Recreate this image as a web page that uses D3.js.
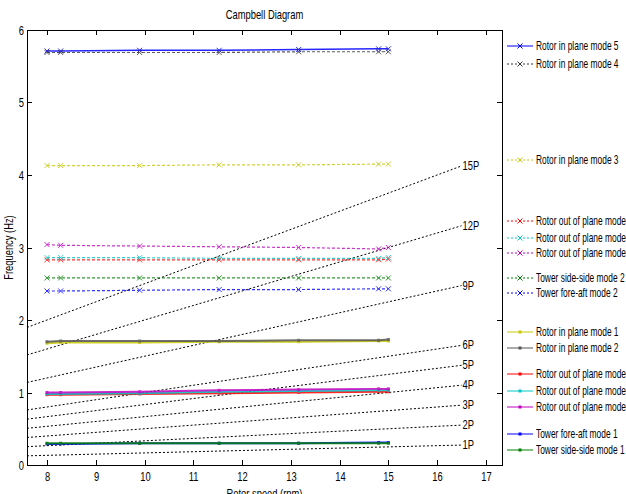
<!DOCTYPE html>
<html>
<head>
<meta charset="utf-8">
<script src="https://cdn.jsdelivr.net/npm/d3@7"></script>
<style>
  body { margin: 0; background: #fff; }
  text { font-family: "Liberation Sans", Arial, sans-serif; fill: #000; }
</style>
</head>
<body>
<div id="chart-area"></div>
<script>
// rotor speeds (rpm) where the modes were computed
var rpm = [8, 8.28, 9.9, 11.53, 13.16, 14.8, 15];

// per-revolution excitation lines
var harmonics = [1, 2, 3, 4, 5, 6, 9, 12, 15];

// modal frequencies (Hz)
var rotorInPlane5 = [5.71, 5.71, 5.72, 5.72, 5.73, 5.74, 5.74];
var rotorInPlane4 = [5.69, 5.69, 5.69, 5.69, 5.70, 5.70, 5.70];
var rotorInPlane3 = [4.13, 4.13, 4.13, 4.14, 4.14, 4.15, 4.15];
var rotorOutMag2  = [3.04, 3.03, 3.02, 3.01, 3.00, 2.98, 3.00];
var rotorOutCyan2 = [2.86, 2.86, 2.86, 2.85, 2.85, 2.85, 2.86];
var rotorOutRed2  = [2.83, 2.83, 2.83, 2.83, 2.83, 2.83, 2.84];
var towerSS2      = [2.58, 2.58, 2.58, 2.58, 2.58, 2.58, 2.58];
var towerFA2      = [2.40, 2.40, 2.41, 2.42, 2.42, 2.43, 2.43];
var rotorInPlane1 = [1.68, 1.69, 1.69, 1.70, 1.70, 1.71, 1.71];
var rotorInPlane2 = [1.70, 1.71, 1.71, 1.71, 1.72, 1.72, 1.73];
var rotorOutRed1  = [0.97, 0.97, 0.98, 0.99, 1.00, 1.01, 1.01];
var rotorOutCyan1 = [0.98, 0.98, 0.99, 1.01, 1.02, 1.03, 1.03];
var rotorOutMag1  = [1.00, 1.00, 1.01, 1.03, 1.04, 1.05, 1.05];
var towerFA1      = [0.29, 0.29, 0.30, 0.30, 0.30, 0.31, 0.31];
var towerSS1      = [0.30, 0.30, 0.30, 0.30, 0.30, 0.30, 0.30];

var xTicks = [8, 9, 10, 11, 12, 13, 14, 15, 16, 17];
var yTicks = [0, 1, 2, 3, 4, 5, 6];

// series: values, legend name, colour, dashed or not, marker, legend row y
var series = [
    {v: rotorInPlane5, name: "Rotor in plane mode 5", c: "#0000ff", dash: false, m: "x", ly: 46},
    {v: rotorInPlane4, name: "Rotor in plane mode 4", c: "#333333", dash: true,  m: "x", ly: 64},
    {v: rotorInPlane3, name: "Rotor in plane mode 3", c: "#c8c800", dash: true,  m: "x", ly: 160},
    {v: rotorOutRed2,  name: "Rotor out of plane mode", c: "#ff0000", dash: true, m: "x", ly: 221},
    {v: rotorOutCyan2, name: "Rotor out of plane mode", c: "#00c8c8", dash: true, m: "x", ly: 238},
    {v: rotorOutMag2,  name: "Rotor out of plane mode", c: "#c000c0", dash: true, m: "x", ly: 253},
    {v: towerSS2,      name: "Tower side-side mode 2", c: "#008000", dash: true, m: "x", ly: 278},
    {v: towerFA2,      name: "Tower fore-aft mode 2",  c: "#0000ff", dash: true, m: "x", ly: 293},
    {v: rotorInPlane1, name: "Rotor in plane mode 1", c: "#c8c800", dash: false, m: ".", ly: 332},
    {v: rotorInPlane2, name: "Rotor in plane mode 2", c: "#555555", dash: false, m: ".", ly: 348},
    {v: rotorOutRed1,  name: "Rotor out of plane mode", c: "#ff0000", dash: false, m: ".", ly: 374},
    {v: rotorOutCyan1, name: "Rotor out of plane mode", c: "#00c8c8", dash: false, m: ".", ly: 391},
    {v: rotorOutMag1,  name: "Rotor out of plane mode", c: "#c000c0", dash: false, m: ".", ly: 407},
    {v: towerFA1,      name: "Tower fore-aft mode 1",  c: "#0000ff", dash: false, m: ".", ly: 434},
    {v: towerSS1,      name: "Tower side-side mode 1", c: "#008000", dash: false, m: ".", ly: 450}
];

var W = 626, H = 494;
var plotL = 27, plotR = 502, plotT = 30, plotB = 465;

var svg = d3.select("#chart-area").append("svg")
    .attr("width", W)
    .attr("height", H);

var x = d3.scaleLinear().domain([7.59, 17.33]).range([plotL, plotR]);
var y = d3.scaleLinear().domain([0, 6]).range([plotB, plotT]);

svg.append("defs").append("clipPath").attr("id", "plot-clip")
    .append("rect")
        .attr("x", plotL).attr("y", plotT)
        .attr("width", plotR - plotL).attr("height", plotB - plotT);

var plot = svg.append("g").attr("clip-path", "url(#plot-clip)");

// squeezed text, like the narrow font of the original
function narrowText(g, px, py, str, anchor, sx) {
    return g.append("text")
        .attr("transform", "translate(" + px + "," + py + ") scale(" + (sx || 0.78) + ",1)")
        .attr("text-anchor", anchor || "start")
        .attr("font-size", 12)
        .text(str);
}

// harmonic lines
var hEnd = 16.5;
harmonics.forEach((n) => {
    var pts = [x.domain()[0], hEnd];
    plot.append("path")
        .attr("d", d3.line().x((d) => x(d)).y((d) => y(n * d / 60))(pts))
        .attr("fill", "none")
        .attr("stroke", "#000")
        .attr("stroke-width", 1)
        .attr("stroke-dasharray", "2,2");
    narrowText(svg, x(hEnd) + 1, y(n * hEnd / 60) + 4, n + "P");
});

var line = d3.line()
    .x((d, i) => x(rpm[i]))
    .y((d) => y(d));

function drawMarker(g, cx, cy, s) {
    if (s.m === "x") {
        g.append("path")
            .attr("d", "M" + (cx - 2.5) + "," + (cy - 2.5) + "L" + (cx + 2.5) + "," + (cy + 2.5) +
                       "M" + (cx - 2.5) + "," + (cy + 2.5) + "L" + (cx + 2.5) + "," + (cy - 2.5))
            .attr("stroke", s.c).attr("stroke-width", 1).attr("fill", "none");
    } else {
        g.append("rect")
            .attr("x", cx - 1.5).attr("y", cy - 1.5)
            .attr("width", 3).attr("height", 3)
            .attr("fill", s.c);
    }
}

series.forEach((s) => {
    var g = plot.append("g").attr("opacity", s.dash ? 0.8 : 0.85);
    g.append("path")
        .attr("d", line(s.v))
        .attr("fill", "none")
        .attr("stroke", s.c)
        .attr("stroke-width", s.dash ? 1.2 : (s.m === "x" ? 1.5 : 2))
        .attr("stroke-dasharray", s.dash ? "3,2" : null);
    s.v.forEach((d, i) => drawMarker(g, x(rpm[i]), y(d), s));
});

// frame
svg.append("rect")
    .attr("x", plotL + 0.5).attr("y", plotT + 0.5)
    .attr("width", plotR - plotL).attr("height", plotB - plotT)
    .attr("fill", "none").attr("stroke", "#000").attr("stroke-width", 1);

// ticks (inward, mirrored on top/right)
xTicks.forEach((t) => {
    var px = Math.round(x(t)) + 0.5;
    svg.append("line").attr("x1", px).attr("x2", px).attr("y1", plotB).attr("y2", plotB - 5)
        .attr("stroke", "#000");
    svg.append("line").attr("x1", px).attr("x2", px).attr("y1", plotT).attr("y2", plotT + 5)
        .attr("stroke", "#000");
    narrowText(svg, px, plotB + 16, t, "middle");
});
yTicks.forEach((t) => {
    var py = Math.round(y(t)) + 0.5;
    svg.append("line").attr("x1", plotL).attr("x2", plotL + 5).attr("y1", py).attr("y2", py)
        .attr("stroke", "#000");
    svg.append("line").attr("x1", plotR).attr("x2", plotR - 5).attr("y1", py).attr("y2", py)
        .attr("stroke", "#000");
    narrowText(svg, plotL - 3, py + 4, t, "end");
});

// title and axis labels
narrowText(svg, (plotL + plotR) / 2, 19, "Campbell Diagram", "middle");
narrowText(svg, (plotL + plotR) / 2, 498, "Rotor speed (rpm)", "middle");

svg.append("text")
    .attr("transform", "translate(13," + ((plotT + plotB) / 2) + ") rotate(-90) scale(0.78,1)")
    .attr("text-anchor", "middle")
    .attr("font-size", 12)
    .text("Frequency (Hz)");

// legend
var legend = svg.append("g");
series.forEach((s) => {
    var g = legend.append("g");
    g.append("line")
        .attr("x1", 507).attr("x2", 533)
        .attr("y1", s.ly).attr("y2", s.ly)
        .attr("stroke", s.c)
        .attr("stroke-width", 1)
        .attr("stroke-dasharray", s.dash ? "2,2" : null);
    drawMarker(g, 520, s.ly, s);
    narrowText(g, 536, s.ly + 4, s.name, "start", 0.7);
});
</script>
</body>
</html>
